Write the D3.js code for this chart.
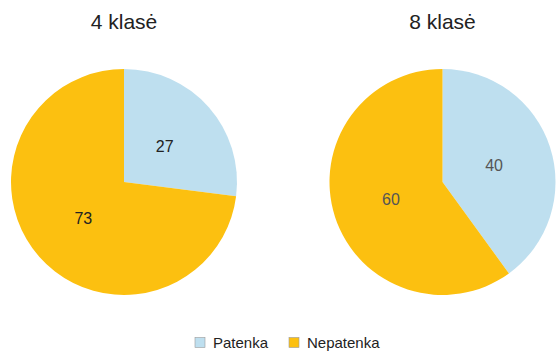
<!DOCTYPE html>
<html>
<head>
<meta charset="utf-8">
<script src="https://cdn.jsdelivr.net/npm/d3@7"></script>
<style>
  html, body { margin: 0; padding: 0; background: #fff; }
  svg { display: block; font-family: "Liberation Sans", Arial, sans-serif; }
</style>
</head>
<body>
<svg id="chart" width="558" height="353"></svg>
<script>
// Share of pupils per grade (percent)
const grades = ["4 klasė", "8 klasė"];
const categories = ["Patenka", "Nepatenka"];
const patenka = [27, 40];
const nepatenka = [73, 60];
const colors = ["#BEDFEF", "#FCC010"];
const labelColors = ["#222222", "#555555"];

const svg = d3.select("#chart");
const radius = 113;
const cy = 182;

const xPos = d3.scalePoint().domain(grades).range([124, 442.5]);
const color = d3.scaleOrdinal().domain(categories).range(colors);

const pie = d3.pie().sort(null).value(d => d.value);
const arc = d3.arc().innerRadius(0).outerRadius(radius);
const labelArc = d3.arc().innerRadius(radius * 0.48).outerRadius(radius * 0.48);

grades.forEach((g, i) => {
  const data = [
    { cat: categories[0], value: patenka[i] },
    { cat: categories[1], value: nepatenka[i] }
  ];
  const gEl = svg.append("g").attr("transform", `translate(${xPos(g)},${cy})`);
  const arcs = pie(data);
  gEl.selectAll("path").data(arcs).join("path")
    .attr("d", arc)
    .attr("fill", d => color(d.data.cat));
  gEl.selectAll("text").data(arcs).join("text")
    .attr("transform", d => `translate(${labelArc.centroid(d)})`)
    .attr("text-anchor", "middle")
    .attr("dy", "0.36em")
    .attr("font-size", 16)
    .attr("fill", labelColors[i])
    .text(d => d.data.value);
  svg.append("text")
    .attr("x", xPos(g))
    .attr("y", 29)
    .attr("text-anchor", "middle")
    .attr("font-size", 21)
    .attr("fill", "#222")
    .text(g);
});

// Legend
const legend = svg.append("g");
const legendX = [195, 289];
categories.forEach((c, i) => {
  legend.append("rect")
    .attr("x", legendX[i]).attr("y", 337.5)
    .attr("width", 10).attr("height", 10)
    .attr("fill", color(c))
    .attr("stroke", "#9a9a9a").attr("stroke-width", 0.6);
  legend.append("text")
    .attr("x", legendX[i] + 18).attr("y", 348)
    .attr("font-size", 15)
    .attr("fill", "#222")
    .text(c);
});
</script>
</body>
</html>
